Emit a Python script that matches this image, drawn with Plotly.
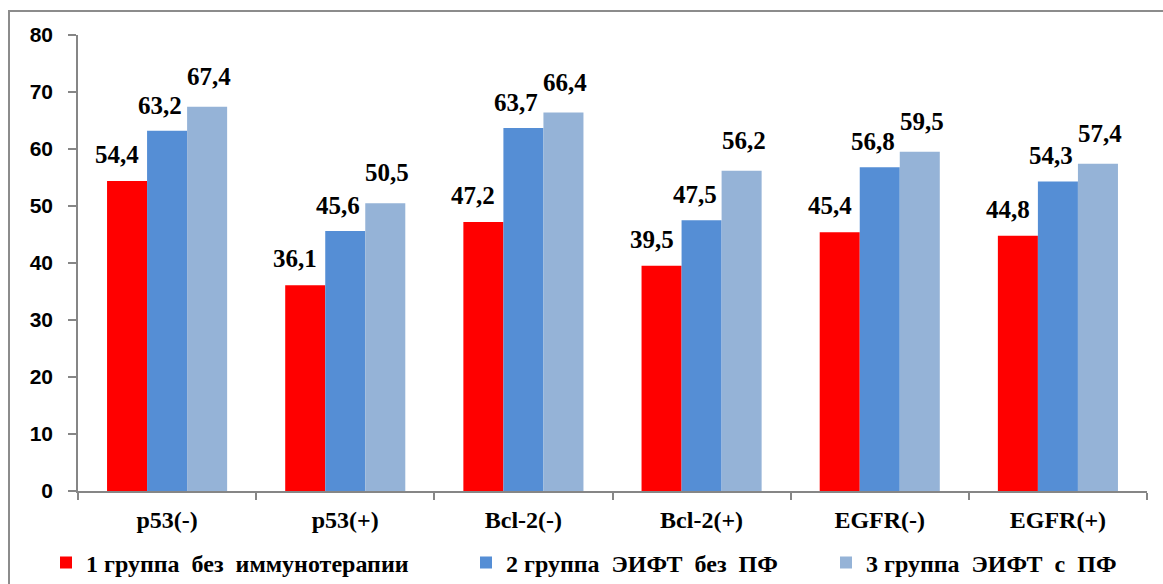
import plotly.graph_objects as go

categories = ["p53(-)", "p53(+)", "Bcl-2(-)", "Bcl-2(+)", "EGFR(-)", "EGFR(+)"]
series_names = [
    "1 группа \u00a0без \u00a0иммунотерапии",
    "2 группа \u00a0ЭИФТ \u00a0без \u00a0ПФ",
    "3 группа \u00a0ЭИФТ \u00a0с \u00a0ПФ",
]
group1 = [54.4, 36.1, 47.2, 39.5, 45.4, 44.8]
group2 = [63.2, 45.6, 63.7, 47.5, 56.8, 54.3]
group3 = [67.4, 50.5, 66.4, 56.2, 59.5, 57.4]
y_ticks = [0, 10, 20, 30, 40, 50, 60, 70, 80]

colors = ["#FF0000", "#558ED5", "#95B3D7"]
serif = "'Times New Roman', 'Liberation Serif', serif"
sans = "Arial, 'Liberation Sans', sans-serif"

W, H = 1163, 584
m_l, m_r, m_t, m_b = 78, 16, 35, 93
plot_w = W - m_l - m_r
plot_h = H - m_t - m_b

fig = go.Figure()
all_series = [group1, group2, group3]
legend_ids = ["legend", "legend2", "legend3"]
for name, vals, col, lg in zip(series_names, all_series, colors, legend_ids):
    fig.add_trace(go.Bar(
        x=categories, y=vals, name=name, legend=lg,
        marker=dict(color=col, line=dict(width=0)),
    ))

# value labels above each bar (bar width is 40 px within a group)
bar_px = 40
label_dx = [-10, -7, 2]
label_dy = [11, 10, 15]
annotations = []
for i, vals in enumerate(all_series):
    for cat, v in zip(categories, vals):
        annotations.append(dict(
            x=cat, y=v, xref="x", yref="y",
            text=f"{v:.1f}".replace(".", ","),
            showarrow=False, yanchor="bottom", xanchor="center",
            xshift=(i - 1) * bar_px + label_dx[i], yshift=label_dy[i],
            font=dict(family=serif, size=25, color="#000000", weight="bold"),
        ))

# outer chart frame
def px_x(p):
    return (p - m_l) / plot_w

def px_y(p):
    return (H - m_b - p) / plot_h

shapes = [dict(
    type="rect", xref="paper", yref="paper",
    x0=px_x(9), x1=px_x(1175), y0=px_y(600), y1=px_y(11),
    line=dict(color="#8C8C8C", width=2), fillcolor="rgba(0,0,0,0)", layer="below",
)]

legend_font = dict(family=serif, size=24, color="#000000", weight="bold")
legend_y = px_y(563)
legend_text_x = [87, 507, 867]
legend_common = dict(orientation="h", yanchor="middle", xanchor="left",
                     font=legend_font, bgcolor="rgba(0,0,0,0)",
                     borderwidth=0, itemclick=False)
legends = {}
for lg, tx in zip(legend_ids, legend_text_x):
    legends[lg] = dict(x=px_x(tx - 41), y=legend_y, **legend_common)

fig.update_layout(
    width=W, height=H,
    margin=dict(l=m_l, r=m_r, t=m_t, b=m_b, pad=0, autoexpand=False),
    plot_bgcolor="white", paper_bgcolor="white",
    barmode="group", bargap=0.326, bargroupgap=0,
    showlegend=True,
    annotations=annotations,
    shapes=shapes,
    **legends,
)
fig.update_xaxes(
    showline=True, linecolor="#868686", linewidth=1.5,
    ticks="outside", tickson="boundaries", ticklen=7, tickcolor="#868686", tickwidth=1.5,
    tickfont=dict(family=serif, size=24, color="#000000", weight="bold"),
    ticklabelstandoff=6,
    showgrid=False, zeroline=False,
)
fig.update_yaxes(
    range=[0, 80], tickvals=y_ticks,
    showline=True, linecolor="#868686", linewidth=1.5,
    ticks="outside", ticklen=8, tickcolor="#868686", tickwidth=1.5,
    tickfont=dict(family=sans, size=21, color="#000000", weight="bold"),
    ticklabelstandoff=11,
    showgrid=False, zeroline=False,
)

fig.write_html("out.html")
